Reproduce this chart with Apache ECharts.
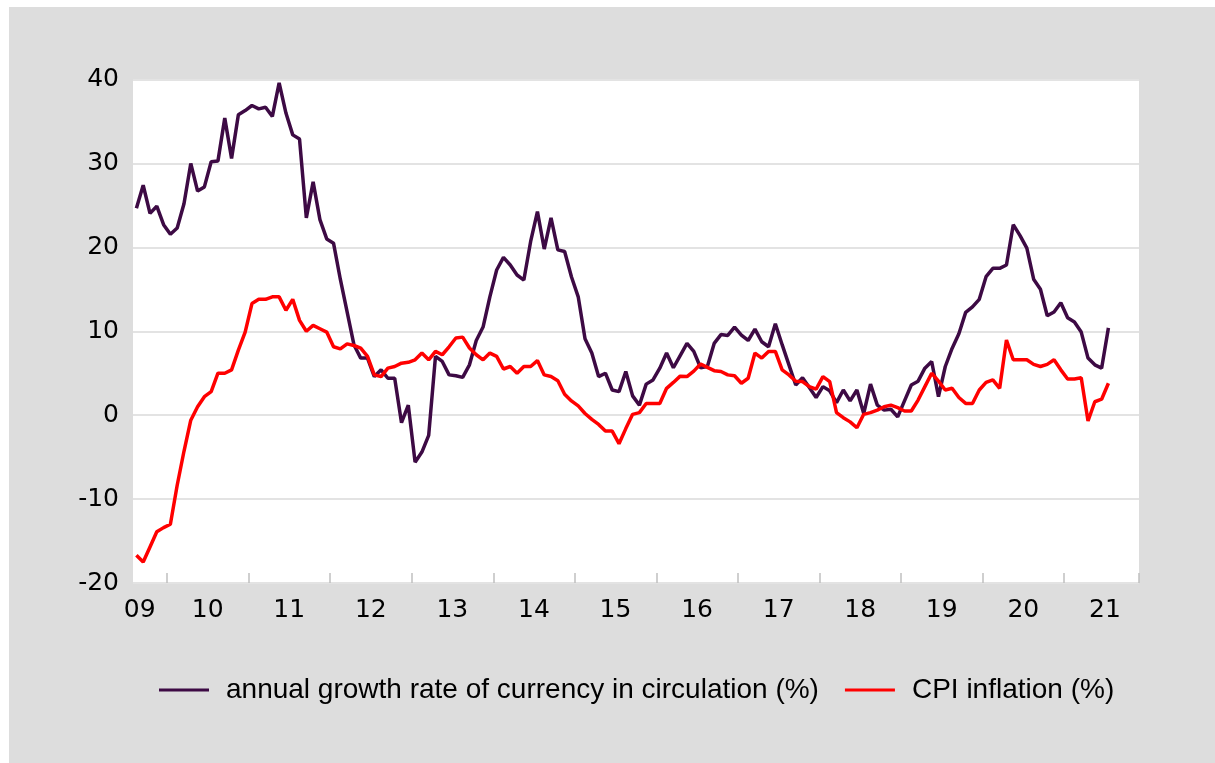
<!DOCTYPE html>
<html>
<head>
<meta charset="utf-8">
<title>Currency in circulation and CPI inflation</title>
<script src="https://cdn.jsdelivr.net/npm/echarts@6/dist/echarts.min.js"></script>
<style>
  html, body { margin: 0; padding: 0; background: #fff; }
  #bg { position: absolute; left: 9px; top: 7px; width: 1206px; height: 756px; background: #dddddd; }
  #chart { position: absolute; left: 0; top: 0; width: 1215px; height: 763px; }
</style>
</head>
<body>
<div id="bg"></div>
<div id="chart"></div>
<script>
// monthly, Aug 2009 .. Jul 2021 (axis runs on to Nov 2021)
var startYear = 2009, startMonth = 8, monthCount = 148;

var yearLabels = ["09", "10", "11", "12", "13", "14", "15", "16", "17", "18", "19", "20", "21"];

// annual growth rate of currency in circulation (%)
var currencyGrowth = [
  24.65, 27.4, 24.05, 24.9, 22.7, 21.55, 22.3, 25.2, 30.0, 26.7, 27.2, 30.2,
  30.3, 35.4, 30.6, 35.8, 36.3, 36.9, 36.5, 36.7, 35.6, 39.6, 36.0, 33.4,
  32.9, 23.5, 27.8, 23.3, 21.0, 20.5, 16.2, 12.3, 8.4, 6.8, 6.8, 4.6,
  5.4, 4.4, 4.4, -0.9, 1.2, -5.6, -4.4, -2.4, 7.0, 6.4, 4.8, 4.7,
  4.5, 6.0, 8.9, 10.5, 14.1, 17.3, 18.8, 17.9, 16.7, 16.1, 20.7, 24.25,
  19.8, 23.5, 19.7, 19.5, 16.5, 14.1, 9.1, 7.4, 4.6, 5.0, 3.0, 2.8,
  5.2, 2.3, 1.2, 3.7, 4.2, 5.6, 7.4, 5.65, 7.1, 8.55, 7.6, 5.65,
  5.8, 8.55, 9.6, 9.5, 10.5, 9.55, 8.9, 10.25, 8.75, 8.15, 10.9, 8.4,
  6.0, 3.6, 4.45, 3.3, 2.1, 3.4, 2.9, 1.5, 3.0, 1.7, 3.0, 0.2,
  3.7, 1.2, 0.6, 0.7, -0.2, 1.7, 3.6, 4.05, 5.6, 6.4, 2.2, 5.8,
  7.95, 9.7, 12.25, 12.9, 13.8, 16.5, 17.5, 17.5, 17.9, 22.7, 21.4, 19.9,
  16.2, 15.0, 11.85, 12.3, 13.4, 11.6, 11.1, 9.9, 6.8, 6.0, 5.6, 10.4
];

// CPI inflation (%)
var cpiInflation = [
  -16.7, -17.5, -15.7, -13.9, -13.4, -13.0, -8.35, -4.3, -0.6, 1.0, 2.2, 2.8,
  5.0, 5.0, 5.4, 7.75, 9.9, 13.3, 13.8, 13.8, 14.1, 14.1, 12.5, 13.8,
  11.3, 10.0, 10.7, 10.3, 9.9, 8.15, 7.9, 8.5, 8.3, 8.0, 7.0, 4.8,
  4.6, 5.6, 5.8, 6.2, 6.3, 6.6, 7.4, 6.6, 7.6, 7.2, 8.15, 9.2,
  9.3, 8.0, 7.2, 6.6, 7.4, 7.0, 5.5, 5.8, 5.0, 5.8, 5.8, 6.5,
  4.8, 4.6, 4.1, 2.5, 1.7, 1.1, 0.2, -0.5, -1.1, -1.9, -1.9, -3.4,
  -1.6, 0.1, 0.3, 1.4, 1.4, 1.4, 3.2, 3.9, 4.65, 4.6, 5.25, 6.1,
  5.7, 5.3, 5.2, 4.8, 4.7, 3.8, 4.4, 7.4, 6.8, 7.6, 7.6, 5.4,
  4.8, 4.05, 4.0, 3.4, 3.1, 4.6, 4.0, 0.3, -0.3, -0.8, -1.5, 0.1,
  0.3, 0.6, 1.0, 1.2, 0.9, 0.5, 0.5, 1.8, 3.4, 5.0, 4.05, 3.0,
  3.2, 2.1, 1.4, 1.4, 3.0, 3.9, 4.2, 3.2, 8.95, 6.6, 6.6, 6.6,
  6.05, 5.8, 6.05, 6.6, 5.4, 4.3, 4.3, 4.45, -0.7, 1.6, 1.9, 3.8
];

var months = [];
for (var k = 0; k < monthCount; k++) {
  var m = startMonth - 1 + k;
  var y = startYear + Math.floor(m / 12);
  var mm = (m % 12) + 1;
  months.push(y + "-" + (mm < 10 ? "0" + mm : mm));
}

var chart = echarts.init(document.getElementById("chart"));
var axisFont = "DejaVu Sans";

chart.setOption({
  backgroundColor: "transparent",
  animation: false,
  grid: {
    left: 133,
    right: 76,
    top: 79.5,
    bottom: 180,
    show: true,
    backgroundColor: "#ffffff",
    borderWidth: 0
  },
  legend: {
    left: 154,
    top: 671,
    itemWidth: 50,
    itemHeight: 3,
    itemGap: 26,
    icon: "rect",
    textStyle: {
      fontFamily: "Liberation Sans",
      fontSize: 28,
      color: "#000",
      padding: [0, 0, 0, 12]
    },
    data: [
      "annual growth rate of currency in circulation (%)",
      "CPI inflation (%)"
    ]
  },
  xAxis: {
    type: "category",
    boundaryGap: true,
    data: months,
    axisLine: { show: false, onZero: false },
    axisTick: {
      show: true,
      inside: true,
      length: 10,
      interval: function (index, value) {
        return value.slice(5) === "01";
      },
      lineStyle: { color: "#c0c0c0", width: 1.5 }
    },
    axisLabel: {
      interval: function (index, value) {
        return index === 1 || value.slice(5) === "07";
      },
      formatter: function (value) {
        var yy = value.slice(2, 4);
        return yearLabels.indexOf(yy) >= 0 ? yy : "";
      },
      padding: [0, 7, 0, 0],
      margin: 15,
      fontFamily: axisFont,
      fontSize: 25,
      color: "#000"
    },
    splitLine: { show: false }
  },
  yAxis: {
    type: "value",
    min: -20,
    max: 40,
    interval: 10,
    axisLine: { show: false },
    axisTick: { show: false },
    axisLabel: {
      margin: 14,
      fontFamily: axisFont,
      fontSize: 25,
      color: "#000"
    },
    splitLine: { lineStyle: { color: "#e3e3e3", width: 2 } }
  },
  series: [
    {
      name: "annual growth rate of currency in circulation (%)",
      type: "line",
      data: currencyGrowth,
      symbol: "none",
      color: "#3d0a44",
      lineStyle: { color: "#3d0a44", width: 3.5 }
    },
    {
      name: "CPI inflation (%)",
      type: "line",
      data: cpiInflation,
      symbol: "none",
      color: "#ff0000",
      lineStyle: { color: "#ff0000", width: 3.5 }
    }
  ]
});
</script>
</body>
</html>
